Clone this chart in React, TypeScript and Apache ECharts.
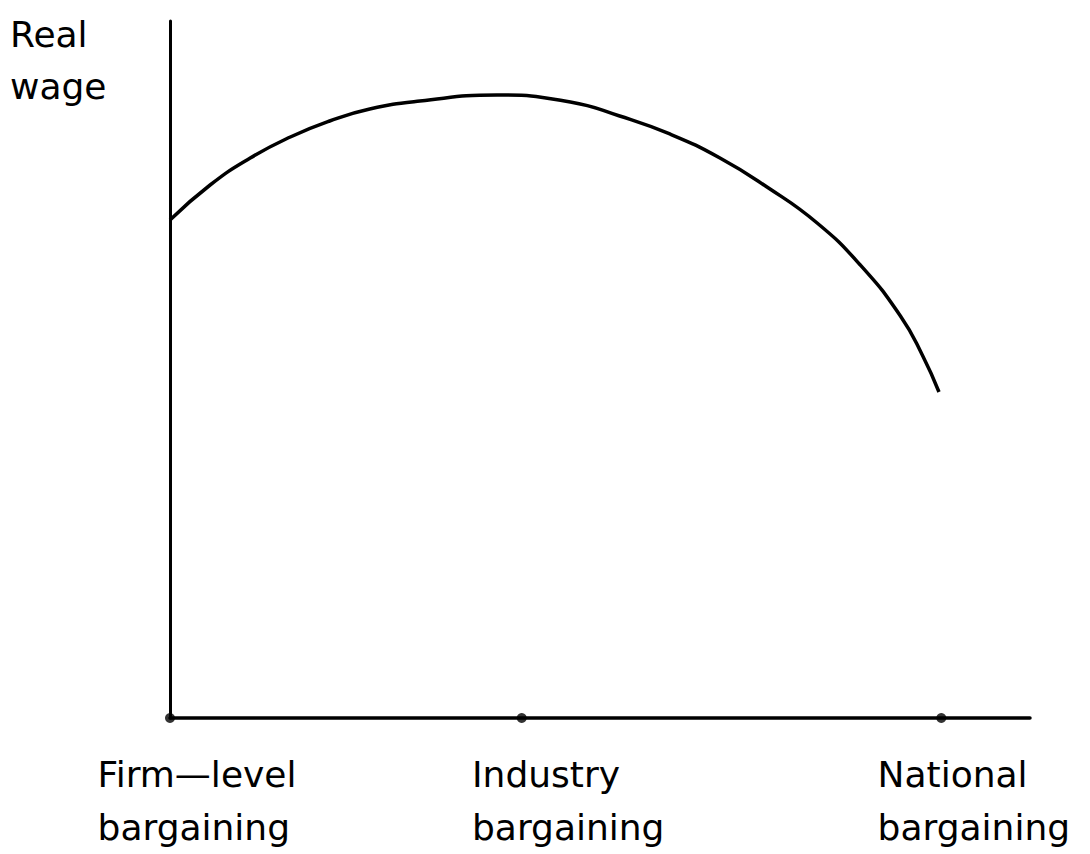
import React, { useEffect, useRef } from "react";
import * as echarts from "echarts";

// Degree of centralisation of bargaining (x) and real wage (y)
const categories = ["Firm—level\nbargaining", "Industry\nbargaining", "National\nbargaining"];
const categoryX = [0, 4.56, 10];
const curveX = [0, 0.52, 1.04, 1.56, 2.07, 2.59, 3.24, 4.24, 5.19, 5.83, 6.48, 7.13, 7.74, 8.39, 8.95, 9.47, 9.76, 9.97];
const realWage = [71.45, 76.47, 80.34, 83.36, 85.65, 87.37, 88.52, 89.38, 88.38, 86.37, 83.79, 80.34, 76.18, 71.02, 64.99, 57.68, 51.94, 46.77];
const yAxisName = "Real\nwage";

const FONT = "DejaVu Sans";
const labelPad = [54, 93, 65];

export default function App() {
  const ref = useRef<HTMLDivElement>(null);
  useEffect(() => {
    document.body.style.margin = "0";
    if (!ref.current) return;
    const chart = echarts.init(ref.current, null, { renderer: "svg" });
    const rich: Record<string, any> = {};
    categories.forEach((_, i) => {
      rich["c" + i] = {
        fontFamily: FONT,
        fontSize: 36,
        lineHeight: 53,
        color: "#000",
        align: "left",
        padding: [0, 0, 0, labelPad[i]],
      };
    });
    chart.setOption({
      animation: false,
      backgroundColor: "#fff",
      title: {
        text: yAxisName,
        left: 10,
        top: 8,
        padding: 0,
        textStyle: {
          fontFamily: FONT,
          fontSize: 36,
          lineHeight: 52,
          fontWeight: "normal",
          color: "#000",
        },
      },
      grid: { left: 170, right: 60, top: 21, bottom: 136 },
      xAxis: {
        type: "value",
        min: 0,
        max: 11.15,
        splitLine: { show: false },
        axisTick: { show: false },
        axisLine: { show: true, lineStyle: { color: "#000", width: 3.5 } },
        axisLabel: {
          customValues: categoryX,
          margin: 30,
          align: "center",
          formatter: (v: number) => {
            let best = 0;
            categoryX.forEach((c, i) => {
              if (Math.abs(c - v) < Math.abs(categoryX[best] - v)) best = i;
            });
            return categories[best]
              .split("\n")
              .map((s) => `{c${best}|${s}}`)
              .join("\n");
          },
          rich,
        },
      },
      yAxis: {
        type: "value",
        min: 0,
        max: 100,
        splitLine: { show: false },
        axisTick: { show: false },
        axisLabel: { show: false },
        axisLine: { show: true, onZero: false, lineStyle: { color: "#000", width: 3 } },
      },
      series: [
        {
          type: "line",
          data: curveX.map((x, i) => [x, realWage[i]]),
          smooth: 0.5,
          symbol: "none",
          clip: false,
          lineStyle: { color: "#000", width: 3.5 },
        },
        {
          type: "scatter",
          data: categoryX.map((x) => [x, 0]),
          symbol: "circle",
          symbolSize: 10,
          clip: false,
          itemStyle: { color: "#000" },
        },
      ],
    });
    return () => chart.dispose();
  }, []);
  return <div ref={ref} style={{ width: 1090, height: 854 }} />;
}
